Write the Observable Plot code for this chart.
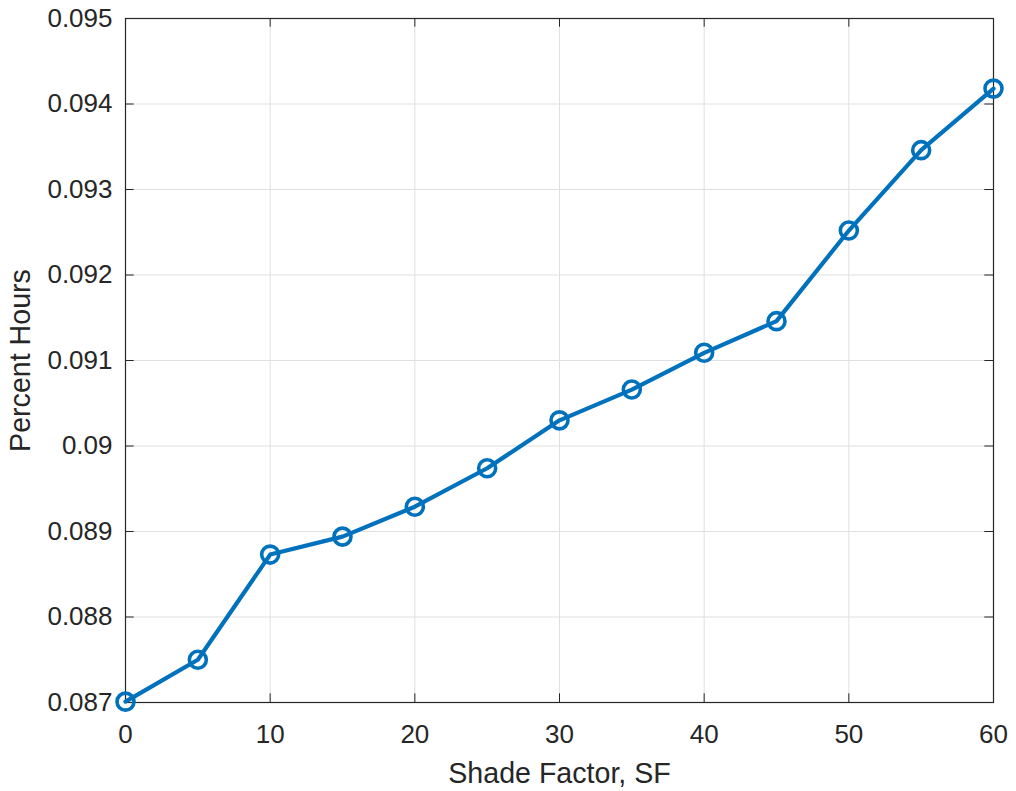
<!DOCTYPE html>
<html>
<head>
<meta charset="utf-8">
<script src="https://cdn.jsdelivr.net/npm/d3@7"></script>
<script src="https://cdn.jsdelivr.net/npm/@observablehq/plot@0.6"></script>
<style>
  html, body { margin: 0; padding: 0; background: #fff; }
  #chart svg { display: block; }
</style>
</head>
<body>
<div id="chart"></div>
<script>
const shadeFactor = [0, 5, 10, 15, 20, 25, 30, 35, 40, 45, 50, 55, 60];
const percentHours = [0.08701, 0.08750, 0.08873, 0.08894, 0.08929, 0.08974, 0.09030, 0.09066, 0.09109, 0.09146, 0.09252, 0.09346, 0.09418];
const xTicks = [0, 10, 20, 30, 40, 50, 60];
const yTicks = [0.087, 0.088, 0.089, 0.09, 0.091, 0.092, 0.093, 0.094, 0.095];

const data = shadeFactor.map((x, i) => ({x, y: percentHours[i]}));

const W = 1016, H = 791;
const mL = 125, mR = 23, mT = 18, mB = 89;
const xDom = [0, 60], yDom = [0.087, 0.095];
const tickPx = 8.7;
const xTickLen = tickPx / (W - mL - mR) * (xDom[1] - xDom[0]);
const yTickLen = tickPx / (H - mT - mB) * (yDom[1] - yDom[0]);
const ink = "#262626";
const font = "'Liberation Sans', Arial, Helvetica, sans-serif";

const chart = Plot.plot({
  width: W, height: H,
  marginLeft: mL, marginRight: mR, marginTop: mT, marginBottom: mB,
  style: {fontFamily: font, background: "#fff"},
  x: {domain: xDom},
  y: {domain: yDom},
  marks: [
    Plot.gridX(xTicks, {stroke: "#dfdfdf", strokeOpacity: 1, strokeWidth: 1}),
    Plot.gridY(yTicks, {stroke: "#dfdfdf", strokeOpacity: 1, strokeWidth: 1}),
    // inward ticks on all four sides (MATLAB style)
    Plot.ruleX(xTicks, {y1: yDom[0], y2: yDom[0] + yTickLen, stroke: ink}),
    Plot.ruleX(xTicks, {y1: yDom[1], y2: yDom[1] - yTickLen, stroke: ink}),
    Plot.ruleY(yTicks, {x1: xDom[0], x2: xDom[0] + xTickLen, stroke: ink}),
    Plot.ruleY(yTicks, {x1: xDom[1], x2: xDom[1] - xTickLen, stroke: ink}),
    Plot.frame({stroke: ink, strokeWidth: 1.2}),
    Plot.axisX(xTicks, {
      tickSize: 0, tickPadding: 22, fontSize: 26, color: ink,
      label: "Shade Factor, SF", labelAnchor: "center", labelArrow: "none", labelOffset: 80
    }),
    Plot.axisY(yTicks, {
      tickSize: 0, tickPadding: 13, fontSize: 26, color: ink,
      tickFormat: d => String(+d.toFixed(3)),
      label: "Percent Hours", labelAnchor: "center", labelArrow: "none", labelOffset: 116
    }),
    Plot.line(data, {x: "x", y: "y", stroke: "#0072BD", strokeWidth: 4.2}),
    Plot.dot(data, {x: "x", y: "y", r: 8.5, stroke: "#0072BD", strokeWidth: 3.6, fill: "none"})
  ]
});

// Axis titles are ~1.1x the tick label size
chart.querySelectorAll("[aria-label='x-axis label'] text, [aria-label='y-axis label'] text").forEach(t => {
  t.setAttribute("font-size", "28.6");
  t.style.fontSize = "28.6px";
});

document.getElementById("chart").appendChild(chart);
</script>
</body>
</html>
